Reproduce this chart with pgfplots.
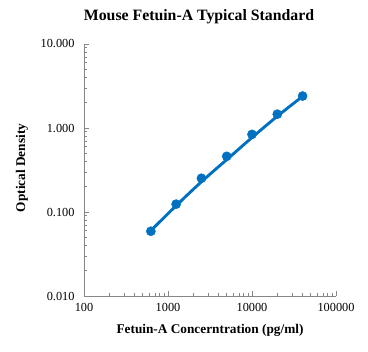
\documentclass[border=0pt]{standalone}
\usepackage{pgfplots}
\pgfplotsset{compat=1.18}
\usepackage{fontspec}
\setmainfont{Liberation Serif}
\definecolor{exblue}{HTML}{0070C0}
\definecolor{axgray}{HTML}{868686}
\begin{document}
\begin{tikzpicture}[x=1bp,y=1bp]
\begin{axis}[
  at={(84bp,56bp)}, anchor=south west,
  width=252bp, height=252bp, scale only axis,
  xmode=log, ymode=log,
  xmin=100, xmax=100000, ymin=0.01, ymax=10,
  axis x line*=bottom, axis y line*=left,
  axis line style={axgray, line width=0.8bp},
  tick style={axgray, line width=0.8bp},
  tick align=inside,
  major tick length=5bp, minor tick length=3bp,
  xtick={100,1000,10000,100000},
  xticklabels={100,1000,10000,100000},
  ytick={0.01,0.1,1,10},
  yticklabels={0.010,0.100,1.000,10.000},
  /pgf/number format/assume math mode=true,
  tick label style={font=\fontsize{12.3bp}{14bp}\selectfont, black},
  xticklabel style={yshift=-4bp},
  yticklabel style={xshift=-6bp},
  clip=false,
]
\addplot[exblue, line width=2.9bp, smooth, no marks] coordinates {
  (625,0.060) (1250,0.119) (2500,0.229) (5000,0.42) (10000,0.77) (20000,1.38) (40000,2.38)
};
\addplot[only marks, mark=*, mark size=4.6bp, exblue, mark options={draw=exblue, fill=exblue}] coordinates {
  (625,0.059) (1250,0.124) (2500,0.252) (5000,0.46) (10000,0.84) (20000,1.46) (40000,2.40)
};
\end{axis}
\node[font=\fontsize{15.8bp}{18bp}\selectfont\bfseries] at (199bp,335bp) {Mouse Fetuin-A Typical Standard};
\node[font=\fontsize{13.3bp}{15bp}\selectfont\bfseries] at (210bp,22bp) {Fetuin-A Concerntration (pg/ml)};
\node[font=\fontsize{13.3bp}{15bp}\selectfont\bfseries, rotate=90] at (22bp,184bp) {Optical Density};
\pgfresetboundingbox
\useasboundingbox (0,0) rectangle (368bp,352bp);
\end{tikzpicture}
\end{document}
